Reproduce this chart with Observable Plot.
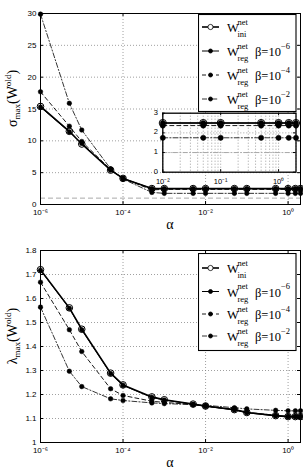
<!DOCTYPE html>
<html>
<head>
<meta charset="utf-8">
<script src="https://cdn.jsdelivr.net/npm/d3@7"></script>
<script src="https://cdn.jsdelivr.net/npm/@observablehq/plot@0.6"></script>
<style>
  body { margin: 0; background: #fff; }
  #fig { position: relative; width: 303px; height: 470px; overflow: hidden; background: #fff; }
  #fig > svg { position: absolute; }
</style>
</head>
<body>
<div id="fig"></div>
<script>
// Regularisation weights on the x axis
const alphas = [1e-6, 5e-6, 1e-5, 5e-5, 1e-4, 5e-4, 1e-3, 5e-3, 1e-2, 5e-2, 1e-1, 5e-1, 1, 1.5, 2];

// Largest singular value of W_old for each network
const sigmaIni  = [15.4, 11.5, 9.5, 5.4, 4.1, 2.5, 2.5, 2.5, 2.5, 2.5, 2.5, 2.5, 2.5, 2.5, 2.5];
const sigmaReg6 = [15.3, 11.4, 9.6, 5.4, 4.1, 2.5, 2.5, 2.5, 2.5, 2.5, 2.5, 2.5, 2.5, 2.5, 2.5];
const sigmaReg4 = [17.7, 12.3, 9.9, 5.5, 4.1, 2.3, 2.37, 2.37, 2.37, 2.37, 2.37, 2.37, 2.37, 2.37, 2.37];
const sigmaReg2 = [29.9, 15.9, 11.7, 5.6, 4.0, 1.9, 1.75, 1.75, 1.75, 1.75, 1.75, 1.75, 1.75, 1.75, 1.75];
const sigmaRef = 1;

// Largest eigenvalue magnitude of W_old for each network
const lambdaIni  = [1.72, 1.561, 1.472, 1.289, 1.240, 1.190, 1.178, 1.160, 1.152, 1.137, 1.125, 1.112, 1.108, 1.108, 1.108];
const lambdaReg6 = [1.718, 1.559, 1.470, 1.287, 1.238, 1.188, 1.177, 1.159, 1.151, 1.136, 1.124, 1.111, 1.107, 1.107, 1.107];
const lambdaReg4 = [1.668, 1.470, 1.379, 1.224, 1.196, 1.172, 1.167, 1.158, 1.151, 1.137, 1.126, 1.113, 1.109, 1.109, 1.109];
const lambdaReg2 = [1.564, 1.297, 1.233, 1.182, 1.175, 1.165, 1.162, 1.158, 1.155, 1.145, 1.140, 1.134, 1.132, 1.132, 1.132];

// Tick values
const xTicks = [1e-6, 1e-4, 1e-2, 1];
const sigmaTicks = [0, 5, 10, 15, 20, 25, 30];
const lambdaTicks = [1, 1.1, 1.2, 1.3, 1.4, 1.5, 1.6, 1.7, 1.8];
const insetXTicks = [1e-2, 1e-1, 1];
const insetYTicks = [0, 1, 2, 3];

// Legend entries
const legendSubs = ["ini", "reg", "reg", "reg"];
const legendBetaExps = [null, "−6", "−4", "−2"];

// Line / marker styles per series
const seriesStyle = [
  { key: "ini",  dash: null,        width: 1.6, open: true },
  { key: "reg6", dash: null,        width: 1.0, open: false },
  { key: "reg4", dash: "4,3",       width: 0.9, open: false },
  { key: "reg2", dash: "5,2,1.2,2", width: 0.8, open: false }
];

const serif = "'Liberation Serif', 'Times New Roman', serif";
const sans = "'Liberation Sans', Arial, sans-serif";
const supDigits = "⁰¹²³⁴⁵⁶⁷⁸⁹";
const sup = n => String(n).replace("-", "⁻").replace(/\d/g, d => supDigits[d]);
const powFormat = d => "10" + sup(Math.round(Math.log10(d)));

function toRows(seriesValues) {
  return seriesStyle.flatMap((s, i) =>
    alphas.map((a, j) => ({ alpha: a, value: seriesValues[i][j], key: s.key })));
}

function seriesMarks(rows, r, filter = () => true) {
  const marks = [];
  for (const s of seriesStyle) {
    const data = rows.filter(d => d.key === s.key && filter(d));
    marks.push(Plot.line(data, {
      x: "alpha", y: "value", stroke: "#000",
      strokeWidth: s.width, strokeDasharray: s.dash
    }));
  }
  for (const s of [...seriesStyle].reverse()) {
    const data = rows.filter(d => d.key === s.key && filter(d));
    marks.push(Plot.dot(data, {
      x: "alpha", y: "value",
      r: s.open ? r + 1 : r,
      fill: s.open ? "none" : "#000",
      stroke: "#000", strokeWidth: s.open ? 1 : 0.5
    }));
  }
  return marks;
}

function inwardTicks(xt, yt, ih, iw, len = 3) {
  return [
    Plot.tickX(xt, { x: d => d, insetTop: ih - len, stroke: "#000" }),
    Plot.tickX(xt, { x: d => d, insetBottom: ih - len, stroke: "#000" }),
    Plot.tickY(yt, { y: d => d, insetRight: iw - len, stroke: "#000" }),
    Plot.tickY(yt, { y: d => d, insetLeft: iw - len, stroke: "#000" })
  ];
}

const grid = { stroke: "#777", strokeOpacity: 1, strokeWidth: 0.7, strokeDasharray: "1,2" };

function panel({ rows, yDomain, yTicks, yFormat, marginTop, marginBottom, extra = [] }) {
  const width = 303, height = 235, marginLeft = 40, marginRight = 3;
  const ih = height - marginTop - marginBottom, iw = width - marginLeft - marginRight;
  return Plot.plot({
    width, height, marginLeft, marginRight, marginTop, marginBottom,
    style: { fontFamily: sans, fontSize: "8px", color: "#000", background: "transparent", overflow: "visible" },
    x: { type: "log", domain: [1e-6, 2], label: null },
    y: { domain: yDomain, label: null },
    marks: [
      Plot.gridX(xTicks, grid),
      Plot.gridY(yTicks, grid),
      ...extra,
      ...seriesMarks(rows, 2.3),
      Plot.frame({ stroke: "#000", strokeWidth: 1 }),
      ...inwardTicks(xTicks, yTicks, ih, iw),
      Plot.axisX(xTicks, { tickSize: 0, tickPadding: 5, tickFormat: powFormat, fontSize: 8 }),
      Plot.axisY(yTicks, { tickSize: 0, tickPadding: 4, tickFormat: yFormat, fontSize: 8 })
    ]
  });
}

function addLabels(svg, symbol, yCenter, alphaY) {
  const s = d3.select(svg);
  s.append("text")
    .attr("x", 170).attr("y", alphaY)
    .attr("text-anchor", "middle").attr("dominant-baseline", "middle")
    .attr("font-family", serif).attr("font-size", 14).attr("fill", "#000")
    .text("α");
  const t = s.append("text")
    .attr("transform", `translate(16.5,${yCenter}) rotate(-90)`)
    .attr("text-anchor", "middle")
    .attr("font-family", serif).attr("font-size", 14).attr("fill", "#000");
  t.append("tspan").text(symbol);
  t.append("tspan").attr("font-size", 9).attr("dy", 3).text("max");
  t.append("tspan").attr("dy", -3).text("(W");
  t.append("tspan").attr("font-size", 9).attr("dy", -6).text("old");
  t.append("tspan").attr("dy", 6).text(")");
}

function legend(left, topPx, entryY) {
  const svg = d3.create("svg")
    .attr("width", 100).attr("height", 100)
    .style("left", left + "px").style("top", topPx + "px");
  svg.append("rect")
    .attr("x", 0.5).attr("y", 0.5).attr("width", 97.5).attr("height", 97)
    .attr("fill", "#fff").attr("stroke", "#000").attr("stroke-width", 1.1);
  seriesStyle.forEach((s, i) => {
    const y = entryY[i];
    svg.append("line")
      .attr("x1", 4).attr("x2", 21).attr("y1", y).attr("y2", y)
      .attr("stroke", "#000").attr("stroke-width", s.width)
      .attr("stroke-dasharray", s.dash);
    svg.append("circle")
      .attr("cx", 12.5).attr("cy", y).attr("r", s.open ? 2.6 : 2)
      .attr("fill", s.open ? "#fff" : "#000").attr("stroke", "#000").attr("stroke-width", 0.8);
    const g = svg.append("g").attr("font-family", serif).attr("fill", "#000");
    g.append("text").attr("x", 29).attr("y", y + 5).attr("font-size", 12.5).text("W");
    g.append("text").attr("x", 39.5).attr("y", y - 2.5).attr("font-size", 8.5).text("net");
    g.append("text").attr("x", 39.5).attr("y", y + 10).attr("font-size", 8.5).text(legendSubs[i]);
    if (legendBetaExps[i]) {
      const bt = g.append("text").attr("x", 57).attr("y", y + 5).attr("font-size", 12.5);
      bt.append("tspan").text("β=10");
      bt.append("tspan").attr("font-size", 8.5).attr("dy", -7.5).text(legendBetaExps[i]);
    }
  });
  return svg.node();
}

function inset(rows) {
  const width = 160, height = 95, marginLeft = 22.3, marginRight = 4.5, marginTop = 12.7, marginBottom = 23.3;
  const ih = height - marginTop - marginBottom, iw = width - marginLeft - marginRight;
  const minor = d3.scaleLog().domain([0.01, 2]).ticks();
  return Plot.plot({
    width, height, marginLeft, marginRight, marginTop, marginBottom,
    style: { fontFamily: sans, fontSize: "7.5px", color: "#000", background: "transparent", overflow: "visible" },
    x: { type: "log", domain: [0.01, 2], label: null },
    y: { domain: [0, 3], label: null },
    marks: [
      Plot.frame({ fill: "#fff" }),
      Plot.gridX(minor, grid),
      Plot.gridY([1, 2], grid),
      Plot.ruleY([sigmaRef], { stroke: "#aaa", strokeWidth: 1, strokeDasharray: "5,2,1.2,2" }),
      ...seriesMarks(rows, 2.6, d => d.alpha >= 0.01),
      Plot.frame({ stroke: "#000", strokeWidth: 1.3 }),
      ...inwardTicks(insetXTicks, insetYTicks, ih, iw, 2.5),
      Plot.axisX(insetXTicks, { tickSize: 0, tickPadding: 6, tickFormat: powFormat, fontSize: 7.5 }),
      Plot.axisY(insetYTicks, { tickSize: 0, tickPadding: 5, fontSize: 7.5, dy: -1 })
    ]
  });
}

const fig = document.getElementById("fig");

// Top panel: sigma_max
const sigmaRows = toRows([sigmaIni, sigmaReg6, sigmaReg4, sigmaReg2]);
const sigmaPanel = panel({
  rows: sigmaRows, yDomain: [0, 30], yTicks: sigmaTicks, yFormat: d => String(d),
  marginTop: 13, marginBottom: 31,
  extra: [Plot.ruleY([sigmaRef], { stroke: "#aaa", strokeWidth: 1, strokeDasharray: "5,3" })]
});
sigmaPanel.style.left = "0px"; sigmaPanel.style.top = "0px";
addLabels(sigmaPanel, "σ", 98.5, 226);
fig.appendChild(sigmaPanel);

// Bottom panel: lambda_max
const lambdaRows = toRows([lambdaIni, lambdaReg6, lambdaReg4, lambdaReg2]);
const lambdaPanel = panel({
  rows: lambdaRows, yDomain: [1, 1.8], yTicks: lambdaTicks,
  yFormat: d => (d === 1 ? "1" : d.toFixed(1)),
  marginTop: 15, marginBottom: 28
});
lambdaPanel.style.left = "0px"; lambdaPanel.style.top = "235px";
addLabels(lambdaPanel, "λ", 101, 229);
fig.appendChild(lambdaPanel);

// Legends
fig.appendChild(legend(197.5, 14, [13, 37, 61, 85]));
fig.appendChild(legend(197.5, 252.5, [15, 38.5, 61, 83]));

// Zoomed view of the sigma tail
const zoomView = inset(sigmaRows);
zoomView.style.left = "140px"; zoomView.style.top = "100px";
fig.appendChild(zoomView);
</script>
</body>
</html>
